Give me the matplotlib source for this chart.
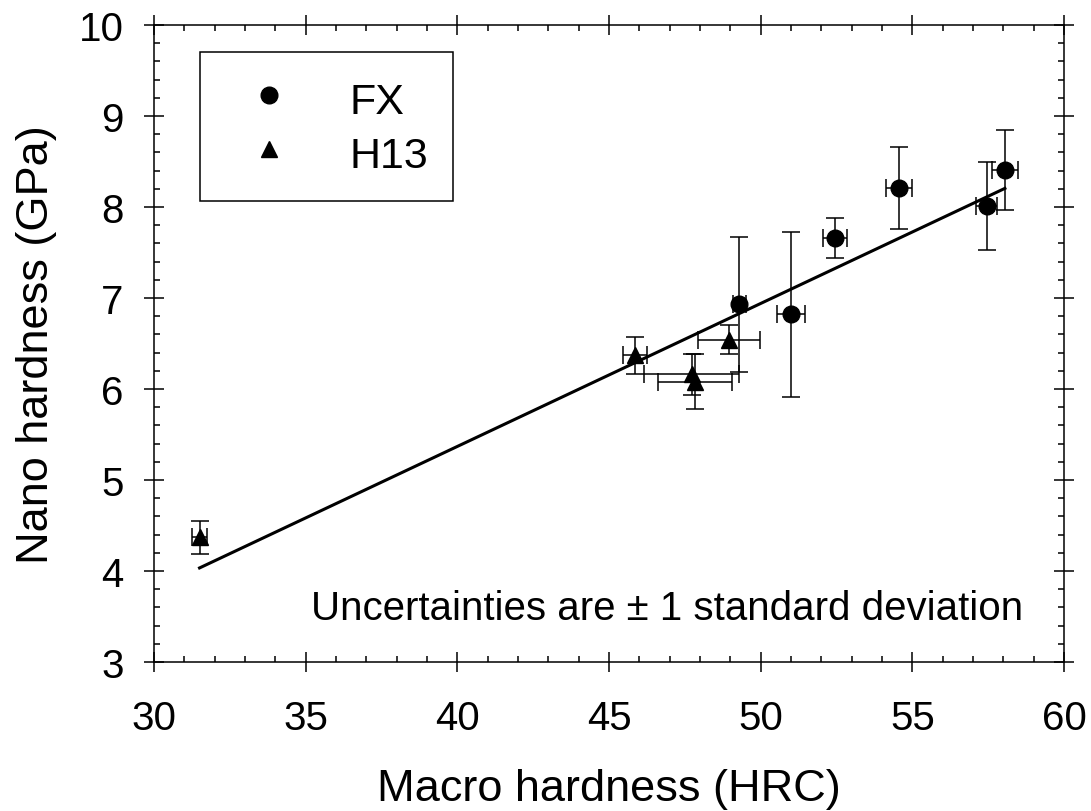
import matplotlib
matplotlib.use("Agg")
import matplotlib.pyplot as plt
import numpy as np

plt.rcParams['font.family'] = ['Liberation Sans', 'DejaVu Sans']

# FX steel: macro hardness (HRC) vs nano hardness (GPa)
fx_x = [58.05, 57.45, 54.55, 52.45, 51.0, 49.3]
fx_y = [8.41, 8.01, 8.21, 7.66, 6.82, 6.93]
fx_xerr = [0.43, 0.35, 0.43, 0.41, 0.45, 0.2]
fx_yerr = [0.44, 0.48, 0.45, 0.22, 0.91, 0.74]

# H13 steel
h13_x = [45.85, 47.72, 47.82, 48.95, 31.5]
h13_y = [6.37, 6.16, 6.08, 6.54, 4.37]
h13_xerr = [0.4, 1.58, 1.22, 1.03, 0.25]
h13_yerr = [0.2, 0.23, 0.3, 0.16, 0.18]

# linear fit through all points
fit_slope = 0.1571
fit_intercept = -0.915
fit_xrange = [31.5, 58.05]

fig = plt.figure(figsize=(10.91, 8.12), dpi=100)
ax = fig.add_axes([0.1412, 0.1835, 0.8341, 0.7845])

eb_style = dict(fmt='none', ecolor='black', elinewidth=1.1, capsize=6.5, capthick=1.1, zorder=2)
ax.errorbar(fx_x, fx_y, xerr=fx_xerr, yerr=fx_yerr, **eb_style)
ax.errorbar(h13_x, h13_y, xerr=h13_xerr, yerr=h13_yerr, **eb_style)

fit_x = np.array(fit_xrange)
ax.plot(fit_x, fit_slope * fit_x + fit_intercept, color='black', lw=2.2, zorder=3)

h_fx, = ax.plot(fx_x, fx_y, 'o', color='black', markersize=12, linestyle='none', label='FX', zorder=4)
h_h13, = ax.plot(h13_x, h13_y, '^', color='black', markersize=12, linestyle='none', label='H13', zorder=4)

ax.set_xlim(30, 60)
ax.set_ylim(3, 10)
ax.set_xticks(np.arange(30, 61, 5))
ax.set_yticks(np.arange(3, 11, 1))
ax.set_xticks(np.arange(30, 61, 1), minor=True)
ax.set_yticks(np.arange(3, 10.01, 0.2), minor=True)
ax.tick_params(which='major', direction='inout', length=14, width=1.1,
               top=True, right=True, labelsize=29)
ax.tick_params(axis='x', which='major', pad=20)
ax.tick_params(axis='y', which='major', pad=15)
ax.tick_params(which='minor', direction='in', length=4.5, width=1.1, top=True, right=True)
for s in ax.spines.values():
    s.set_linewidth(1.1)

ax.set_xlabel('Macro hardness (HRC)', fontsize=32.5, labelpad=22)
ax.set_ylabel('Nano hardness (GPa)', fontsize=32.5, labelpad=15.5)

ax.text(0.955, 0.085, 'Uncertainties are \u00b1 1 standard deviation',
        transform=ax.transAxes, fontsize=29, ha='right', va='center')

leg = ax.legend(handles=[h_fx, h_h13], loc='upper left', bbox_to_anchor=(0.0505, 0.957),
                borderaxespad=0, fontsize=31, frameon=True, fancybox=False,
                edgecolor='black', framealpha=1, borderpad=0.58, handlelength=2.06,
                handleheight=1.16, handletextpad=0.83, labelspacing=0.19, markerscale=1.0)
leg.get_frame().set_linewidth(1.1)

fig.savefig('out.png', dpi=100)
